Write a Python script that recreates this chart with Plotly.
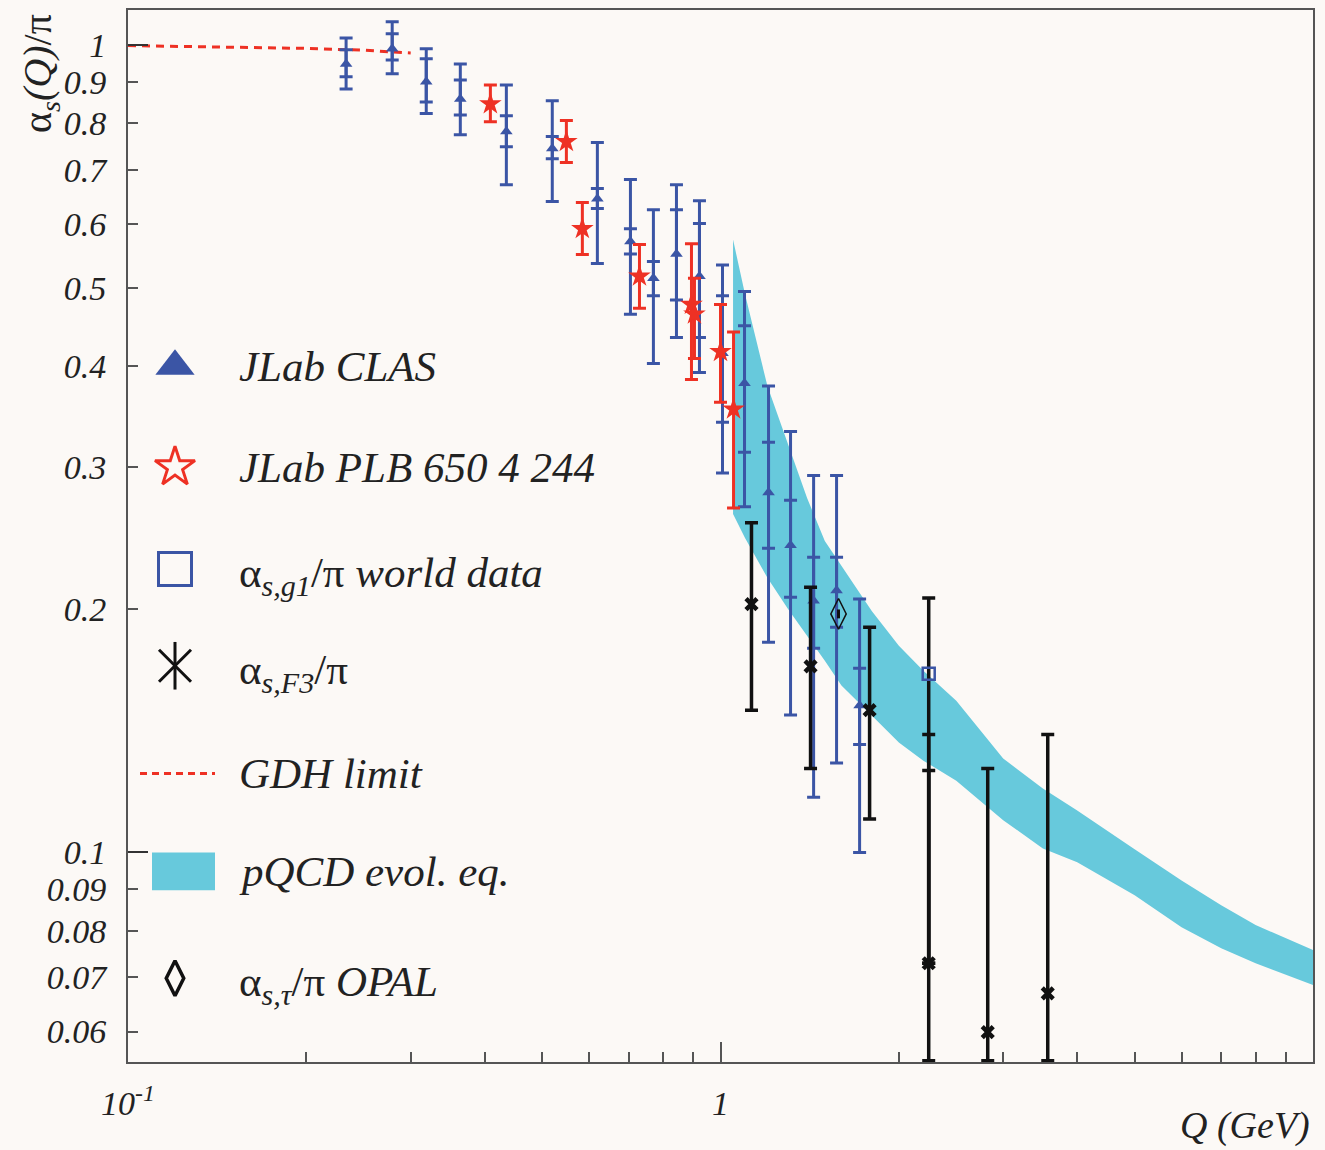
import plotly.graph_objects as go

# ---------------- data ----------------
# JLab CLAS (blue triangles): Q, alpha_s/pi, total & inner error bounds
clas_q = [0.2334, 0.2792, 0.3187, 0.3638, 0.4351, 0.5201, 0.6197, 0.7047, 0.7705,
          0.8427, 0.9215, 1.0078, 1.0978, 1.2052, 1.3129, 1.436, 1.570, 1.717]
clas_a = [0.947, 0.989, 0.900, 0.857, 0.781, 0.744, 0.645, 0.571, 0.514,
          0.551, 0.517, 0.415, 0.381, 0.279, 0.240, 0.205, 0.211, 0.152]
clas_tot_hi = [1.020, 1.068, 0.989, 0.947, 0.892, 0.853, 0.757, 0.681, 0.625,
               0.671, 0.641, 0.534, 0.495, 0.378, 0.332, 0.293, 0.293, 0.206]
clas_tot_lo = [0.882, 0.921, 0.822, 0.774, 0.671, 0.640, 0.536, 0.464, 0.403,
               0.434, 0.393, 0.295, 0.268, 0.182, 0.148, 0.117, 0.129, 0.100]
clas_in_hi = [0.986, 1.032, 0.961, 0.905, 0.817, 0.770, 0.664, 0.592, 0.539,
              0.625, 0.601, 0.489, 0.449, 0.322, 0.273, 0.232, 0.232, 0.169]
clas_in_lo = [0.913, 0.958, 0.850, 0.819, 0.748, 0.723, 0.627, 0.551, 0.489,
              0.483, 0.434, 0.341, 0.313, 0.238, 0.207, 0.179, 0.190, 0.136]

# JLab PLB 650 4 244 (red stars)
plb_q = [0.4089, 0.5494, 0.5846, 0.7299, 0.8933, 0.9038, 1.000, 1.052]
plb_a = [0.845, 0.759, 0.592, 0.517, 0.477, 0.464, 0.417, 0.354]
plb_hi = [0.892, 0.806, 0.638, 0.566, 0.567, 0.514, 0.477, 0.441]
plb_lo = [0.803, 0.715, 0.550, 0.472, 0.385, 0.409, 0.361, 0.267]

# alpha_s,F3 / pi (black)
f3_q = [1.128, 1.419, 1.785, 2.246, 2.825, 3.567]
f3_a = [0.203, 0.170, 0.150, 0.0729, 0.0599, 0.0669]
f3_hi = [0.256, 0.213, 0.190, 0.2066, 0.127, 0.140]
f3_lo = [0.150, 0.127, 0.110, 0.0552, 0.0552, 0.0552]
f3_in_q = [2.246, 2.246]
f3_in_a = [0.0729, 0.0729]
f3_in_hi = [0.140, 0.1263]

# alpha_s,g1 / pi world data (blue open square)
g1_q = [2.246]
g1_a = [0.1664]

# alpha_s,tau / pi OPAL (open diamond)
tau_q = [1.582]
tau_a = [0.1974]
tau_err = [0.0025]

# GDH limit (dashed red)
gdh_q = [0.10, 0.15, 0.20, 0.25, 0.30]
gdh_a = [0.998, 0.994, 0.990, 0.985, 0.977]

# pQCD evolution band
band_q = [1.05, 1.1, 1.2, 1.3, 1.4, 1.5, 1.6, 1.8, 2.0, 2.2, 2.5, 3.0, 3.5, 4.0,
          5.0, 6.0, 7.0, 8.0, 10.0]
band_hi = [0.574, 0.491, 0.378, 0.321, 0.2747, 0.2430, 0.2263, 0.1991, 0.1803,
           0.1679, 0.1541, 0.1307, 0.1200, 0.1127, 0.1009, 0.0923, 0.0860, 0.0813, 0.0757]
band_lo = [0.2624, 0.2451, 0.2188, 0.2002, 0.1854, 0.1727, 0.1609, 0.1477, 0.1368,
           0.1299, 0.1227, 0.1096, 0.1011, 0.0972, 0.0885, 0.0808, 0.0761, 0.0729, 0.0685]

y_tickvals = [0.06, 0.07, 0.08, 0.09, 0.1, 0.2, 0.3, 0.4, 0.5, 0.6, 0.7, 0.8, 0.9, 1]
y_ticktext = ["0.06", "0.07", "0.08", "0.09", "0.1", "0.2", "0.3", "0.4", "0.5",
              "0.6", "0.7", "0.8", "0.9", "1"]
x_major = [0.1, 1]
x_major_text = ["10<sup>-1</sup>", "1"]
x_minor = [0.2, 0.3, 0.4, 0.5, 0.6, 0.7, 0.8, 0.9, 2, 3, 4, 5, 6, 7, 8, 9]

legend_labels = [
    "<i>JLab CLAS</i>",
    "<i>JLab PLB 650 4 244</i>",
    "α<sub><i>s,g1</i></sub>/π <i>world data</i>",
    "α<sub><i>s,F3</i></sub>/π",
    "<i>GDH limit</i>",
    "<i>pQCD evol. eq.</i>",
    "α<sub><i>s,τ</i></sub>/π <i>OPAL</i>",
]

# ---------------- style ----------------
BG = "#FCF9F6"
BLUE = "#3B55A5"
RED = "#EE3124"
CYAN = "#67C9DC"
BLACK = "#111111"
AX = "#555555"
TXT = "#222222"
SERIF = "Liberation Serif"

OFF = 8  # page body margin of the html page
W, H = 1317, 1142
ML, MR, MT, MB = 120, 12, 0, 88
PW, PH = W - ML - MR, H - MT - MB


def px(xs):
    """screen pixel x -> paper fraction"""
    return (xs - OFF - ML) / PW


def py(ys):
    """screen pixel y -> paper fraction"""
    return (H - MB - (ys - OFF)) / PH


def up(v, hi):
    return [h - a for a, h in zip(v, hi)]


def dn(v, lo):
    return [a - l for a, l in zip(v, lo)]


fig = go.Figure()

# band
fig.add_trace(go.Scatter(
    x=band_q + band_q[::-1], y=band_hi + band_lo[::-1],
    fill="toself", fillcolor=CYAN, line=dict(width=0), mode="lines",
    hoverinfo="skip"))

# GDH limit
fig.add_trace(go.Scatter(
    x=gdh_q, y=gdh_a, mode="lines",
    line=dict(color=RED, width=3, dash="8px,6px")))

# CLAS total errors + markers
fig.add_trace(go.Scatter(
    x=clas_q, y=clas_a, mode="markers",
    marker=dict(symbol="triangle-up", size=11, color=BLUE),
    error_y=dict(type="data", symmetric=False, array=up(clas_a, clas_tot_hi),
                 arrayminus=dn(clas_a, clas_tot_lo), color=BLUE, thickness=3, width=6.5)))
# CLAS inner errors
fig.add_trace(go.Scatter(
    x=clas_q, y=clas_a, mode="markers",
    marker=dict(size=1, color="rgba(0,0,0,0)"),
    error_y=dict(type="data", symmetric=False, array=up(clas_a, clas_in_hi),
                 arrayminus=dn(clas_a, clas_in_lo), color=BLUE, thickness=3, width=6.5)))

# PLB stars
fig.add_trace(go.Scatter(
    x=plb_q, y=plb_a, mode="markers",
    marker=dict(symbol="star", size=17, color=RED),
    error_y=dict(type="data", symmetric=False, array=up(plb_a, plb_hi),
                 arrayminus=dn(plb_a, plb_lo), color=RED, thickness=3, width=6.5)))

# F3 black
fig.add_trace(go.Scatter(
    x=f3_q, y=f3_a, mode="markers",
    marker=dict(symbol="x-thin-open", size=11, color=BLACK, line=dict(color=BLACK, width=4.5)),
    error_y=dict(type="data", symmetric=False, array=up(f3_a, f3_hi),
                 arrayminus=dn(f3_a, f3_lo), color=BLACK, thickness=3.5, width=6.5)))
fig.add_trace(go.Scatter(
    x=f3_in_q, y=f3_in_a, mode="markers",
    marker=dict(size=1, color="rgba(0,0,0,0)"),
    error_y=dict(type="data", symmetric=False, array=up(f3_in_a, f3_in_hi),
                 arrayminus=[0, 0], color=BLACK, thickness=3.5, width=6.5)))

# world data square
fig.add_trace(go.Scatter(
    x=g1_q, y=g1_a, mode="markers",
    marker=dict(symbol="square-open", size=12, color=BLUE, line=dict(color=BLUE, width=2.5))))

# OPAL diamond
fig.add_trace(go.Scatter(
    x=tau_q, y=tau_a, mode="markers",
    marker=dict(symbol="diamond-tall-open", size=22, color=BLACK,
                line=dict(color=BLACK, width=1.5)),
    error_y=dict(type="data", array=tau_err, color=BLACK, thickness=3, width=0)))

# dummy trace for the long-tick overlay axis
fig.add_trace(go.Scatter(x=[1], y=[1], yaxis="y3", mode="markers",
                         marker=dict(size=1, color="rgba(0,0,0,0)"), hoverinfo="skip"))

# ---------------- custom legend ----------------
leg_sym_x = px(175)
leg_txt_x = px(237)
leg_rows = [365, 466, 568, 665, 773, 871, 978]

fig.add_trace(go.Scatter(x=[leg_sym_x], y=[py(leg_rows[0])], xaxis="x2", yaxis="y2",
                         mode="markers", cliponaxis=False,
                         marker=dict(symbol="triangle-up", size=34, color=BLUE)))
fig.add_trace(go.Scatter(x=[leg_sym_x], y=[py(leg_rows[1])], xaxis="x2", yaxis="y2",
                         mode="markers", cliponaxis=False,
                         marker=dict(symbol="star-open", size=30, color=RED,
                                     line=dict(color=RED, width=3))))
fig.add_trace(go.Scatter(x=[leg_sym_x], y=[py(leg_rows[2])], xaxis="x2", yaxis="y2",
                         mode="markers", cliponaxis=False,
                         marker=dict(symbol="square-open", size=33, color=BLUE,
                                     line=dict(color=BLUE, width=3))))
fig.add_trace(go.Scatter(x=[leg_sym_x], y=[py(leg_rows[3])], xaxis="x2", yaxis="y2",
                         mode="markers", cliponaxis=False,
                         marker=dict(symbol="x-thin-open", size=32, color=BLACK,
                                     line=dict(color=BLACK, width=3))))
fig.add_trace(go.Scatter(x=[leg_sym_x], y=[py(leg_rows[3])], xaxis="x2", yaxis="y2",
                         mode="markers", cliponaxis=False,
                         marker=dict(symbol="line-ns-open", size=34, color=BLACK,
                                     line=dict(color=BLACK, width=3))))
fig.add_trace(go.Scatter(x=[leg_sym_x], y=[py(leg_rows[6])], xaxis="x2", yaxis="y2",
                         mode="markers", cliponaxis=False,
                         marker=dict(symbol="diamond-tall-open", size=25, color=BLACK,
                                     line=dict(color=BLACK, width=3.5))))

shapes = [
    dict(type="line", xref="paper", yref="paper", x0=px(140), x1=px(215),
         y0=py(leg_rows[4]), y1=py(leg_rows[4]), line=dict(color=RED, width=3, dash="7px,5px")),
    dict(type="rect", xref="paper", yref="paper", x0=px(152), x1=px(215),
         y0=py(890), y1=py(852), fillcolor=CYAN, line=dict(width=0)),
]

annotations = []
for lab, row in zip(legend_labels, leg_rows):
    shift = 7 if "<sub>" in lab else 0
    annotations.append(dict(text=lab, xref="paper", yref="paper", x=leg_txt_x,
                            y=py(row + shift), xanchor="left", yanchor="middle",
                            showarrow=False, font=dict(family=SERIF, size=43, color=TXT)))

# axis titles
annotations.append(dict(text="α<sub><i>s</i></sub><i>(Q)</i>/π", xref="paper", yref="paper",
                        x=px(40), y=py(72), xanchor="center", yanchor="middle",
                        textangle=-90, showarrow=False,
                        font=dict(family=SERIF, size=40, color=TXT)))
annotations.append(dict(text="<i>Q (GeV)</i>", xref="paper", yref="paper",
                        x=px(1312), y=py(1126), xanchor="right", yanchor="middle",
                        showarrow=False, font=dict(family=SERIF, size=38, color=TXT)))

yr = [-1.2596, 0.0432]
fig.update_layout(
    width=W, height=H, margin=dict(l=ML, r=MR, t=MT, b=MB),
    paper_bgcolor=BG, plot_bgcolor=BG, showlegend=False,
    xaxis=dict(type="log", range=[-1, 1], showline=True, linecolor=AX, linewidth=2,
               mirror=True, ticks="inside", ticklen=20, tickwidth=2, tickcolor=AX,
               tickmode="array", tickvals=x_major, ticktext=x_major_text,
               minor=dict(tickmode="array", tickvals=x_minor, ticklen=10, tickwidth=1.5,
                          tickcolor=AX, ticks="inside"),
               showgrid=False, zeroline=False, ticklabelstandoff=10,
               tickfont=dict(family=SERIF, size=34, color=TXT, style="italic")),
    yaxis=dict(type="log", range=yr, showline=True, linecolor=AX, linewidth=2,
               mirror=True, ticks="inside", ticklen=10, tickwidth=1.5, tickcolor=AX,
               tickmode="array", tickvals=y_tickvals, ticktext=y_ticktext,
               showgrid=False, zeroline=False, ticklabelstandoff=13,
               tickfont=dict(family=SERIF, size=34, color=TXT, style="italic")),
    yaxis3=dict(type="log", range=yr, overlaying="y", anchor="x", side="left",
                ticks="inside", ticklen=20, tickwidth=2, tickcolor="#333333",
                tickmode="array", tickvals=[0.1, 1], showticklabels=False,
                showline=False, showgrid=False, zeroline=False),
    xaxis2=dict(range=[0, 1], overlaying="x", visible=False),
    yaxis2=dict(range=[0, 1], overlaying="y", visible=False),
    shapes=shapes, annotations=annotations,
)

fig.write_html("out.html",
               post_script="document.body.style.backgroundColor='%s';" % BG)
